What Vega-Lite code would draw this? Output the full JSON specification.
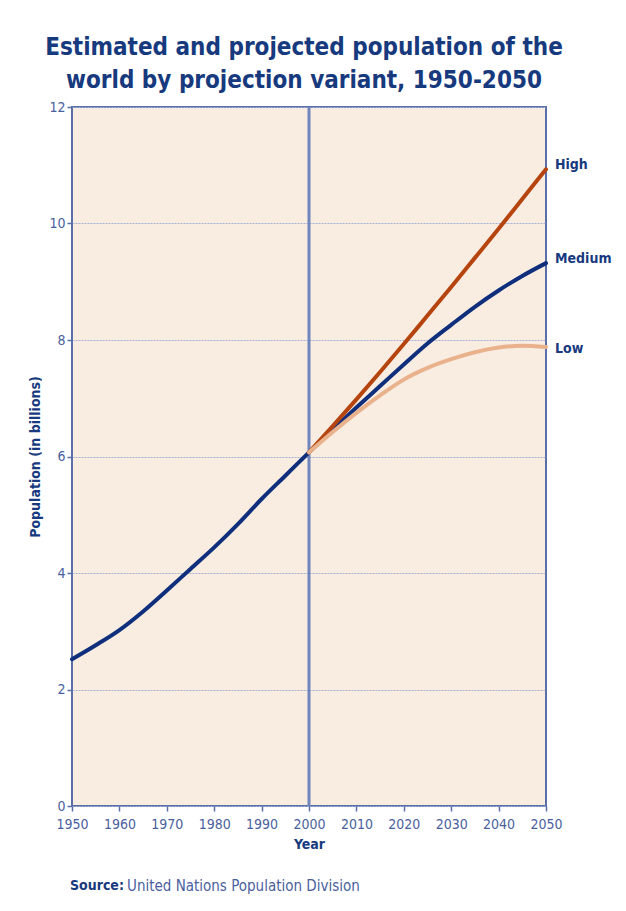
{
  "$schema": "https://vega.github.io/schema/vega-lite/v6.json",
  "width": 474,
  "height": 699,
  "autosize": {"type": "none"},
  "padding": {"left": 72, "top": 107, "right": 80, "bottom": 105},
  "background": "white",
  "title": {
    "text": ["Estimated and projected population of the", "world by projection variant, 1950-2050"],
    "font": "DejaVu Sans Condensed",
    "fontSize": 24,
    "fontWeight": "bold",
    "color": "#173a7e",
    "lineHeight": 33,
    "anchor": "middle",
    "offset": 7,
    "dx": -5
  },
  "config": {
    "view": {"fill": "#f9ede2", "stroke": "#5a6fa9", "strokeWidth": 2},
    "font": "DejaVu Sans Condensed"
  },
  "datasets": {
    "series": [
      {"variant": "Medium", "year": 1950, "pop": 2.52},
      {"variant": "Medium", "year": 1955, "pop": 2.76},
      {"variant": "Medium", "year": 1960, "pop": 3.02},
      {"variant": "Medium", "year": 1965, "pop": 3.34},
      {"variant": "Medium", "year": 1970, "pop": 3.70},
      {"variant": "Medium", "year": 1975, "pop": 4.07},
      {"variant": "Medium", "year": 1980, "pop": 4.44},
      {"variant": "Medium", "year": 1985, "pop": 4.84},
      {"variant": "Medium", "year": 1990, "pop": 5.27},
      {"variant": "Medium", "year": 1995, "pop": 5.67},
      {"variant": "Medium", "year": 2000, "pop": 6.07},
      {"variant": "Medium", "year": 2005, "pop": 6.46},
      {"variant": "Medium", "year": 2010, "pop": 6.84},
      {"variant": "Medium", "year": 2015, "pop": 7.21},
      {"variant": "Medium", "year": 2020, "pop": 7.58},
      {"variant": "Medium", "year": 2025, "pop": 7.94},
      {"variant": "Medium", "year": 2030, "pop": 8.26},
      {"variant": "Medium", "year": 2035, "pop": 8.57},
      {"variant": "Medium", "year": 2040, "pop": 8.85},
      {"variant": "Medium", "year": 2045, "pop": 9.10},
      {"variant": "Medium", "year": 2050, "pop": 9.32},
      {"variant": "High", "year": 2000, "pop": 6.07},
      {"variant": "High", "year": 2005, "pop": 6.52},
      {"variant": "High", "year": 2010, "pop": 6.98},
      {"variant": "High", "year": 2015, "pop": 7.45},
      {"variant": "High", "year": 2020, "pop": 7.93},
      {"variant": "High", "year": 2025, "pop": 8.42},
      {"variant": "High", "year": 2030, "pop": 8.91},
      {"variant": "High", "year": 2035, "pop": 9.41},
      {"variant": "High", "year": 2040, "pop": 9.91},
      {"variant": "High", "year": 2045, "pop": 10.42},
      {"variant": "High", "year": 2050, "pop": 10.93},
      {"variant": "Low", "year": 2000, "pop": 6.07},
      {"variant": "Low", "year": 2005, "pop": 6.42},
      {"variant": "Low", "year": 2010, "pop": 6.75},
      {"variant": "Low", "year": 2015, "pop": 7.05},
      {"variant": "Low", "year": 2020, "pop": 7.32},
      {"variant": "Low", "year": 2025, "pop": 7.52},
      {"variant": "Low", "year": 2030, "pop": 7.67},
      {"variant": "Low", "year": 2035, "pop": 7.79},
      {"variant": "Low", "year": 2040, "pop": 7.87},
      {"variant": "Low", "year": 2045, "pop": 7.90},
      {"variant": "Low", "year": 2050, "pop": 7.88}
    ],
    "labels": [
      {"variant": "High", "year": 2050, "pop": 11.0},
      {"variant": "Medium", "year": 2050, "pop": 9.39},
      {"variant": "Low", "year": 2050, "pop": 7.85}
    ],
    "source": [
      {"year": 1950, "pop": -1.37, "bold": "Source:", "rest": "United Nations Population Division"}
    ]
  },
  "layer": [
    {
      "mark": {"type": "rule", "color": "#7185bd", "strokeWidth": 3},
      "encoding": {"x": {"datum": 2000, "type": "quantitative"}}
    },
    {
      "data": {"name": "series"},
      "mark": {"type": "line", "interpolate": "monotone", "strokeWidth": 4, "strokeCap": "round"},
      "encoding": {
        "x": {
          "field": "year", "type": "quantitative",
          "scale": {"domain": [1950, 2050], "nice": false, "zero": false},
          "axis": {
            "title": "Year", "values": [1950,1960,1970,1980,1990,2000,2010,2020,2030,2040,2050],
            "format": "d", "grid": false, "domain": false, "labelOverlap": false, "labelFlush": false,
            "tickColor": "#5a6fa9", "tickSize": 5, "tickWidth": 1.5,
            "labelColor": "#4a5f9e", "labelFontSize": 14, "labelPadding": 6,
            "titleColor": "#173a7e", "titleFontSize": 14, "titleFontWeight": "bold", "titlePadding": 6
          }
        },
        "y": {
          "field": "pop", "type": "quantitative",
          "scale": {"domain": [0, 12], "nice": false},
          "axis": {
            "title": "Population (in billions)", "values": [0,2,4,6,8,10,12], "format": "d",
            "grid": true, "gridColor": "#a3b1d4", "gridWidth": 1, "gridDash": [2, 1],
            "domain": false, "labelOverlap": false, "labelFlush": false,
            "tickColor": "#5a6fa9", "tickSize": 5, "tickWidth": 1.5,
            "labelColor": "#4a5f9e", "labelFontSize": 14, "labelPadding": 2,
            "titleColor": "#173a7e", "titleFontSize": 14, "titleFontWeight": "bold", "titlePadding": 6
          }
        },
        "color": {
          "field": "variant", "type": "nominal",
          "scale": {"domain": ["Low", "High", "Medium"], "range": ["#e9b28c", "#b5440e", "#0f2f7c"]},
          "legend": null
        },
        "order": {"field": "year"}
      }
    },
    {
      "data": {"name": "labels"},
      "mark": {"type": "text", "align": "left", "baseline": "middle", "dx": 9, "fontSize": 14, "fontWeight": "bold", "color": "#173a7e"},
      "encoding": {
        "x": {"field": "year", "type": "quantitative"},
        "y": {"field": "pop", "type": "quantitative"},
        "text": {"field": "variant"}
      }
    },
    {
      "data": {"name": "source"},
      "mark": {"type": "text", "align": "left", "baseline": "middle", "dx": -2, "fontSize": 14, "fontWeight": "bold", "color": "#173a7e", "clip": false},
      "encoding": {
        "x": {"field": "year", "type": "quantitative"},
        "y": {"field": "pop", "type": "quantitative"},
        "text": {"field": "bold"}
      }
    },
    {
      "data": {"name": "source"},
      "mark": {"type": "text", "align": "left", "baseline": "middle", "dx": 55, "fontSize": 15, "color": "#4a5f9e", "clip": false},
      "encoding": {
        "x": {"field": "year", "type": "quantitative"},
        "y": {"field": "pop", "type": "quantitative"},
        "text": {"field": "rest"}
      }
    }
  ]
}
